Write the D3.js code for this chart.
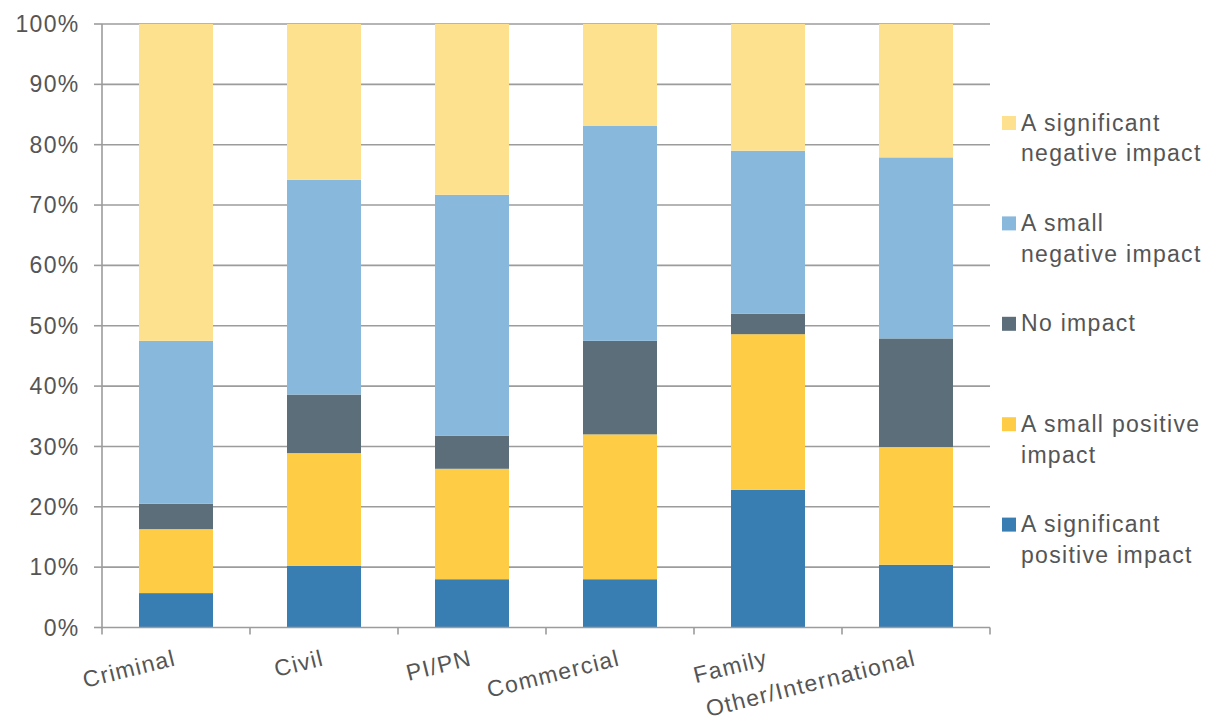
<!DOCTYPE html>
<html>
<head>
<meta charset="utf-8">
<script src="https://cdn.jsdelivr.net/npm/d3@7"></script>
<style>
  html, body { margin: 0; padding: 0; background: #fff; }
  text { font-family: "Liberation Sans", Arial, sans-serif; fill: #555555; }
</style>
</head>
<body>
<svg id="chart" width="1210" height="721"></svg>
<script>
// Practice areas along the x axis
const categories = ["Criminal", "Civil", "PI/PN", "Commercial", "Family", "Other/International"];

// Share of respondents (%) per impact level, bottom to top of each stack
const sigPositive   = [5.7, 10.2, 8.0, 8.0, 22.8, 10.4];
const smallPositive = [10.6, 18.7, 18.3, 24.0, 25.8, 19.5];
const noImpact      = [4.2, 9.7, 5.5, 15.5, 3.4, 18.0];
const smallNegative = [27.0, 35.6, 39.9, 35.6, 27.0, 30.0];
const sigNegative   = [52.5, 25.8, 28.3, 16.9, 21.0, 22.1];

const seriesKeys   = ["sigPos", "smallPos", "none", "smallNeg", "sigNeg"];
const seriesLabels = {
  sigPos:   ["A significant", "positive impact"],
  smallPos: ["A small positive", "impact"],
  none:     ["No impact"],
  smallNeg: ["A small", "negative impact"],
  sigNeg:   ["A significant", "negative impact"]
};
const seriesColors = {
  sigPos: "#387EB2", smallPos: "#FECC45", none: "#5B6E7A",
  smallNeg: "#88B8DC", sigNeg: "#FEE18F"
};
const yTicks = [0, 10, 20, 30, 40, 50, 60, 70, 80, 90, 100];

const rows = categories.map((c, i) => ({
  category: c,
  sigPos: sigPositive[i], smallPos: smallPositive[i], none: noImpact[i],
  smallNeg: smallNegative[i], sigNeg: sigNegative[i]
}));

const svg = d3.select("#chart");
const plotLeft = 102, plotRight = 990, plotTop = 24, plotBottom = 627.5;
const gridColor = "#9c9c9c";
const fontSize = 23, spacing = 1.3;

const x = d3.scaleBand().domain(categories).range([plotLeft, plotRight])
  .paddingInner(0.5).paddingOuter(0.25);
const y = d3.scaleLinear().domain([0, 100]).range([plotBottom, plotTop]);

// Horizontal gridlines
svg.append("g").selectAll("line").data(yTicks.filter(t => t > 0)).join("line")
  .attr("x1", plotLeft).attr("x2", plotRight)
  .attr("y1", d => y(d)).attr("y2", d => y(d))
  .attr("stroke", gridColor).attr("stroke-width", 1.6);

// Stacked bars
const stack = d3.stack().keys(seriesKeys)(rows);
svg.append("g").selectAll("g").data(stack).join("g")
  .attr("fill", s => seriesColors[s.key])
  .selectAll("rect").data(s => s).join("rect")
  .attr("x", d => x(d.data.category))
  .attr("width", x.bandwidth())
  .attr("y", d => y(d[1]))
  .attr("height", d => y(d[0]) - y(d[1]));

// Y axis
const yAxis = svg.append("g");
yAxis.append("line").attr("x1", plotLeft).attr("x2", plotLeft)
  .attr("y1", y(100)).attr("y2", y(0) + 0.8)
  .attr("stroke", gridColor).attr("stroke-width", 1.6);
yAxis.selectAll("line.tick").data(yTicks).join("line").attr("class", "tick")
  .attr("x1", plotLeft - 8).attr("x2", plotLeft)
  .attr("y1", d => y(d)).attr("y2", d => y(d))
  .attr("stroke", gridColor).attr("stroke-width", 1.6);
yAxis.selectAll("text").data(yTicks).join("text")
  .attr("x", 79.5).attr("y", d => y(d)).attr("dy", "0.35em")
  .attr("text-anchor", "end")
  .style("font-size", fontSize + "px").style("letter-spacing", spacing + "px")
  .text(d => d + "%");

// X axis
const xAxis = svg.append("g");
xAxis.append("line").attr("x1", plotLeft).attr("x2", plotRight)
  .attr("y1", y(0)).attr("y2", y(0))
  .attr("stroke", gridColor).attr("stroke-width", 1.6);
const boundaries = d3.range(categories.length + 1).map(i => plotLeft + i * x.step());
xAxis.selectAll("line.tick").data(boundaries).join("line").attr("class", "tick")
  .attr("x1", d => d).attr("x2", d => d)
  .attr("y1", y(0)).attr("y2", y(0) + 7)
  .attr("stroke", gridColor).attr("stroke-width", 1.6);
xAxis.selectAll("text").data(categories).join("text")
  .attr("text-anchor", "end")
  .attr("transform", d => `translate(${x(d) + x.bandwidth() / 2 + 1},665) rotate(-14)`)
  .style("font-size", fontSize + "px").style("letter-spacing", spacing + "px")
  .text(d => d);

// Legend, top item is the top of the stack
const legendOrder = seriesKeys.slice().reverse();
const legend = svg.append("g");
legendOrder.forEach((k, i) => {
  const cy = 122.5 + i * 100.4;
  legend.append("rect").attr("x", 1002).attr("y", cy - 6.5)
    .attr("width", 14).attr("height", 14).attr("fill", seriesColors[k]);
  const t = legend.append("text")
    .style("font-size", fontSize + "px").style("letter-spacing", spacing + "px");
  seriesLabels[k].forEach((line, j) => {
    t.append("tspan").attr("x", 1021).attr("y", cy + j * 30.8).attr("dy", "0.35em").text(line);
  });
});
</script>
</body>
</html>
